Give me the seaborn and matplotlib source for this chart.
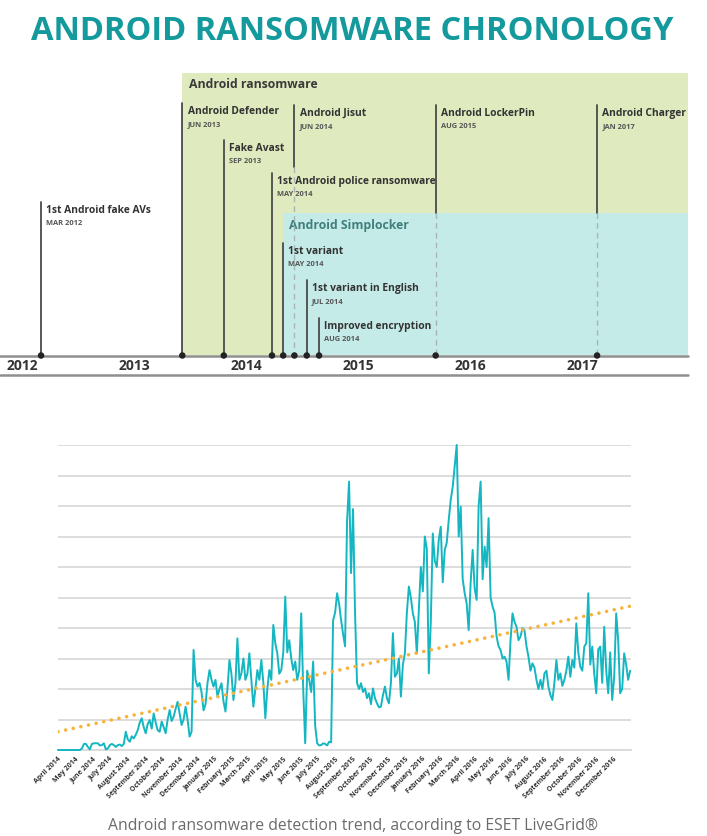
import pandas as pd
import matplotlib.pyplot as plt
import matplotlib.dates as mdates
import matplotlib.ticker as mticker
import seaborn as sns

# --- chronology (top infographic) ---
event_names = ['1st Android fake AVs', 'Android Defender', 'Fake Avast',
               '1st Android police ransomware', 'Android Jisut', '1st variant',
               '1st variant in English', 'Improved encryption',
               'Android LockerPin', 'Android Charger']
event_dates = ['MAR 2012', 'JUN 2013', 'SEP 2013', 'MAY 2014', 'JUN 2014',
               'MAY 2014', 'JUL 2014', 'AUG 2014', 'AUG 2015', 'JAN 2017']
# where each event sits on the timeline (decimal year, as drawn)
event_pos = [2012.17, 2013.43, 2013.80, 2014.23, 2014.43, 2014.33,
             2014.54, 2014.65, 2015.69, 2017.13]
years = [2012, 2013, 2014, 2015, 2016, 2017]

# --- detection trend (bottom chart), twice-weekly values from 1 April 2014 ---
detections = [
    0.0, 0, 0.0, 0, 0.0, 0, 0.0, 0, 0.0, 0, 0.0, 0, 0.05, 0.2, 0.2, 0.1, 0.02, 0.2, 0.22, 0.22,
    0.22, 0.15, 0.16, 0.22, 0.02, 0.05, 0.16, 0.2, 0.16, 0.1, 0.16, 0.18, 0.13, 0.2, 0.6, 0.35, 0.27, 0.45, 0.38, 0.5,
    0.65, 0.9, 1.04, 0.75, 0.55, 0.85, 0.98, 0.7, 1.2, 0.9, 0.65, 0.6, 0.93, 0.75, 0.55, 1.0, 1.31, 0.95, 1.09, 1.35,
    1.58, 1.2, 0.82, 1.0, 1.42, 1.0, 0.44, 0.6, 3.28, 2.3, 2.08, 2.2, 1.9, 1.3, 1.5, 2.2, 2.62, 2.3, 2.08, 2.3,
    1.75, 2.0, 2.19, 1.6, 1.26, 2.0, 2.95, 2.5, 1.64, 2.2, 3.66, 2.3, 2.51, 3.0, 2.3, 2.5, 3.17, 2.3, 1.42, 2.0,
    2.62, 2.3, 2.95, 2.2, 1.04, 2.0, 2.62, 2.3, 4.1, 3.5, 3.17, 2.5, 2.62, 3.2, 5.03, 3.2, 3.6, 3.0, 2.62, 2.9,
    2.3, 2.6, 4.48, 2.0, 0.22, 2.6, 2.3, 1.9, 2.9, 0.8, 0.22, 0.15, 0.16, 0.22, 0.2, 0.15, 0.27, 0.25, 4.26, 4.5,
    5.14, 4.8, 4.26, 3.8, 3.4, 7.5, 8.8, 5.8, 7.9, 4.5, 2.2, 2.0, 2.19, 1.9, 2.02, 1.7, 1.86, 1.5, 2.02, 1.7,
    1.53, 1.4, 1.42, 1.8, 2.08, 1.7, 1.53, 2.2, 3.83, 2.4, 2.51, 3.0, 1.75, 2.8, 3.17, 4.5, 5.36, 5.0, 4.48, 4.2,
    3.17, 4.6, 6.0, 5.2, 7.0, 6.6, 2.51, 4.2, 7.1, 6.2, 6.0, 6.9, 7.32, 5.5, 6.56, 6.8, 7.54, 8.2, 8.63, 9.3,
    10.0, 7.0, 7.98, 5.6, 5.14, 4.8, 3.93, 5.5, 6.56, 5.3, 4.92, 8.0, 8.8, 5.6, 6.67, 6.0, 7.6, 5.0, 4.7, 4.5,
    3.72, 3.4, 3.28, 3.0, 3.06, 2.9, 2.3, 3.6, 4.48, 4.2, 4.04, 3.6, 3.72, 4.0, 3.93, 3.4, 3.06, 2.6, 2.84, 2.7,
    2.3, 2.0, 2.3, 2.0, 2.51, 2.6, 2.08, 1.8, 1.64, 2.2, 2.95, 2.3, 2.51, 2.1, 2.3, 2.6, 3.06, 2.4, 2.95, 2.7,
    4.15, 3.2, 2.73, 2.6, 3.39, 3.5, 5.14, 2.8, 3.39, 2.5, 1.86, 3.3, 3.39, 2.2, 4.04, 2.6, 1.86, 3.2, 1.64, 2.4,
    4.48, 3.6, 1.86, 2.0, 3.17, 2.8, 2.3, 2.6]
trend_dates = ['2014-04-01', '2017-01-01']
trend_values = [0.6, 4.72]

df = pd.DataFrame({'date': pd.date_range('2014-04-01', periods=len(detections), freq='84h'),
                   'detections': detections})
trend = pd.DataFrame({'date': pd.to_datetime(trend_dates), 'value': trend_values})

sns.set_style('white')
plt.rcParams['font.family'] = ['Open Sans', 'DejaVu Sans']

W, H = 707, 836
fig = plt.figure(figsize=(W / 100, H / 100), dpi=100)

# title
fig.text(0.4986, 1 - 31 / H, 'ANDROID RANSOMWARE CHRONOLOGY', ha='center', va='center',
         fontsize=23.5, fontweight='bold', color='#149a9c')

# timeline axes: x in years, y in pixels from the top
ax = fig.add_axes([0, 1 - 380 / H, 1, 320 / H])
px_per_year = 112.1
x0 = 2012 - 22 / px_per_year
ax.set_xlim(x0, x0 + W / px_per_year)
ax.set_ylim(380, 60)
ax.axis('off')

def px(x):
    return x0 + x / px_per_year

right_edge = px(688)
ax.fill_between([event_pos[1], right_edge], 355, 73, color='#dfeabf', lw=0, zorder=0)
ax.fill_between([event_pos[5], right_edge], 355, 213, color='#c5ebe8', lw=0, zorder=1)
ax.text(px(189), 85, 'Android ransomware', fontsize=8.8, fontweight='bold',
        color='#3a3a3a', va='center')
ax.text(px(289), 226, 'Android Simplocker', fontsize=8.8, fontweight='bold',
        color='#3f7f7c', va='center')

# stem tops and where a stem turns dashed (pixels)
stem_top = [202, 103, 140, 173, 105, 243, 280, 318, 105, 105]
dash_from = [None, None, None, None, 167, None, None, None, 213, 213]
for name, date, x, top, dash in zip(event_names, event_dates, event_pos, stem_top, dash_from):
    solid_end = dash if dash else 355
    ax.plot([x, x], [top, solid_end], color='#4a4a4a', lw=1.3, zorder=3)
    if dash:
        ax.plot([x, x], [dash, 355], color='#a9b4b4', lw=1, ls=(0, (4, 3)), zorder=3)
    ax.annotate(name, (x, top + 8.5), xytext=(3.8, 0), textcoords='offset points',
                fontsize=7.4, fontweight='bold', color='#333333', va='center')
    ax.annotate(date, (x, top + 21.5), xytext=(3.8, 0), textcoords='offset points',
                fontsize=5.4, fontweight='bold', color='#555555', va='center')

ax.plot([px(0), right_edge], [355.5, 355.5], color='#8f8f8f', lw=1.8, zorder=4)
ax.plot([px(0), right_edge], [374.5, 374.5], color='#8f8f8f', lw=1.8, zorder=4)
sns.scatterplot(x=event_pos, y=[355.5] * len(event_pos), ax=ax, color='#222222',
                s=22, zorder=5, edgecolor='none')
for y in years:
    ax.text(y, 366, str(y), ha='center', va='center', fontsize=10,
            fontweight='bold', color='#333333')

# detection chart
axc = fig.add_axes([58 / W, 1 - 750 / H, 573 / W, 305 / H])
sns.lineplot(data=df, x='date', y='detections', ax=axc, color='#13b6c1', lw=1.4,
             zorder=3, clip_on=False)
sns.lineplot(data=trend, x='date', y='value', ax=axc, color='#f7b43c', lw=2.6,
             ls=(0, (0.01, 2.15)), solid_capstyle='round', dash_capstyle='round', zorder=4)
axc.set_ylim(0, 10)
axc.set_xlim(pd.Timestamp('2014-04-01'), pd.Timestamp('2017-01-01'))
axc.set_yticks(range(0, 11))
axc.set_yticklabels([])
axc.yaxis.grid(True, color='#dadada', lw=1.3)
axc.tick_params(axis='y', length=0)
axc.xaxis.set_major_locator(mdates.MonthLocator())
last_tick = mdates.date2num(pd.Timestamp('2017-01-01'))
axc.xaxis.set_major_formatter(mticker.FuncFormatter(
    lambda v, pos: '' if v >= last_tick - 1 else mdates.num2date(v).strftime('%B %Y')))
axc.tick_params(axis='x', length=3, width=0.8, color='#bbbbbb', pad=1)
plt.setp(axc.get_xticklabels(), rotation=45, ha='right', rotation_mode='anchor',
         fontsize=5, fontweight='bold', color='#333333')
for s in ['top', 'right', 'left']:
    axc.spines[s].set_visible(False)
axc.spines['bottom'].set_color('#dadada')
axc.spines['bottom'].set_linewidth(1.3)
axc.set_xlabel('')
axc.set_ylabel('')

fig.text(352.5 / W, 1 - 826 / H, 'Android ransomware detection trend, according to ESET LiveGrid®',
         ha='center', va='center', fontsize=11.3, color='#6b6b6b')

fig.savefig('out.png', dpi=100)
